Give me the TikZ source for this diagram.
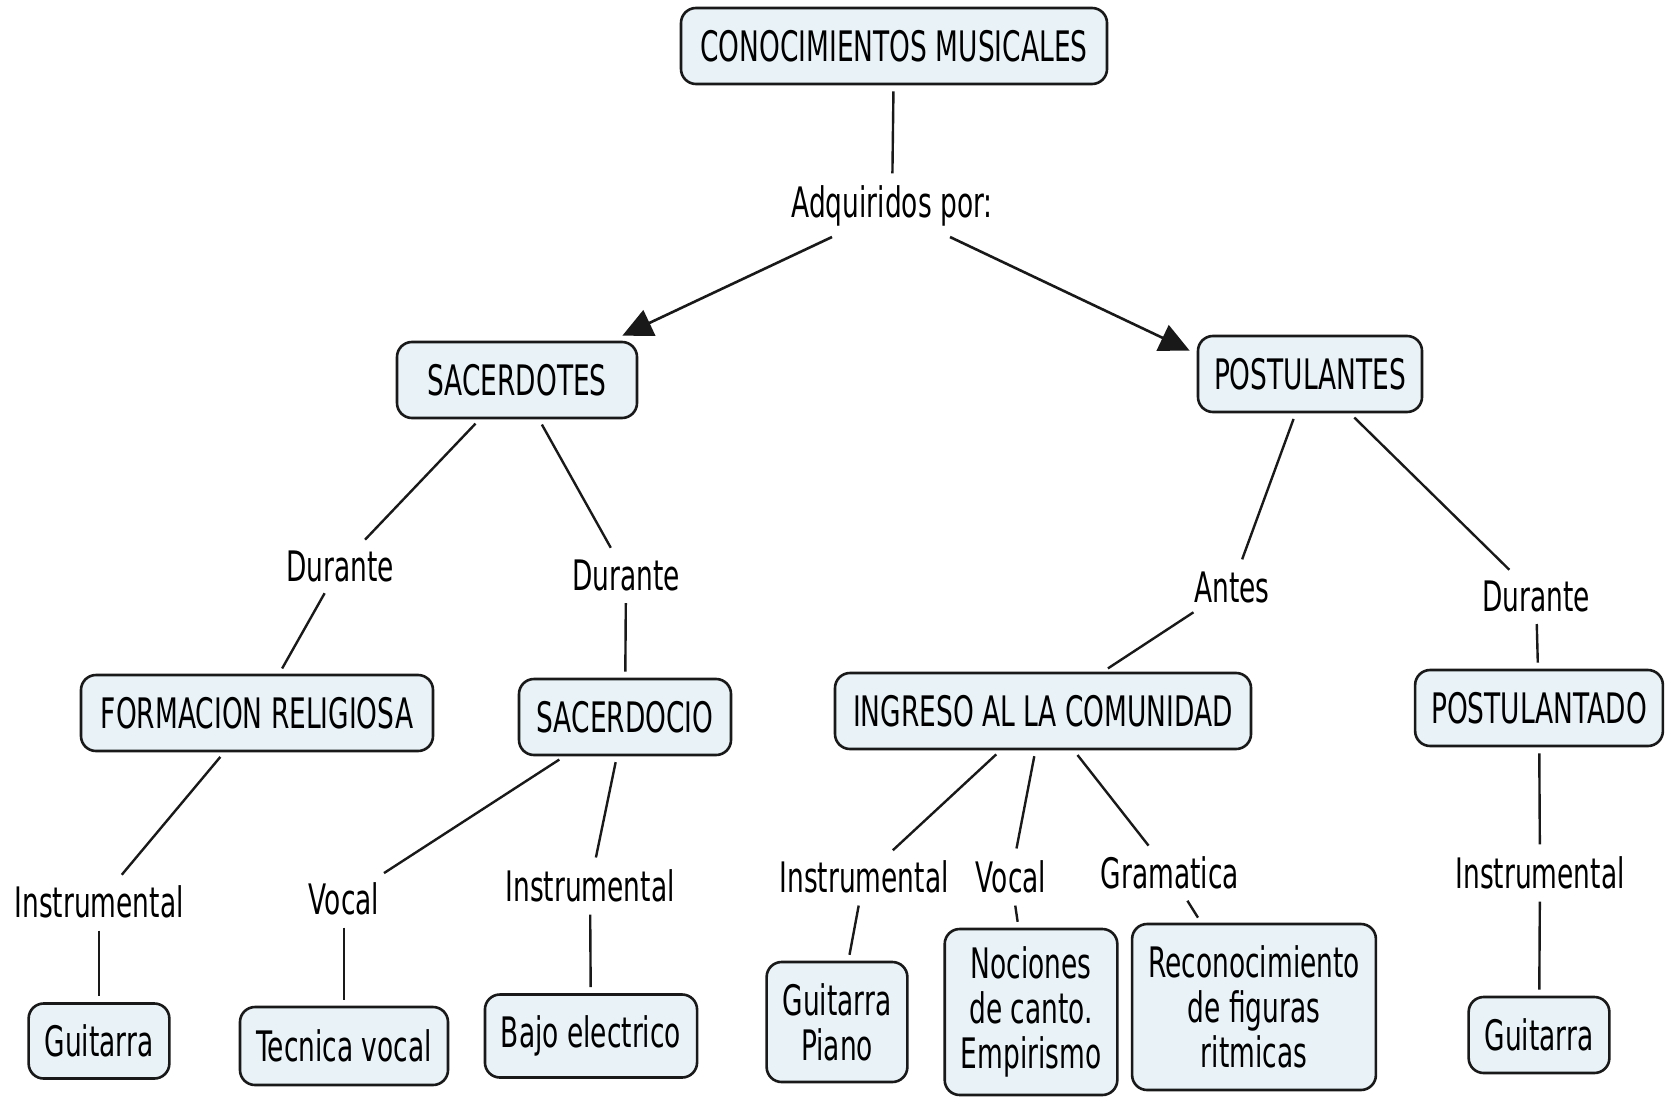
\documentclass[tikz,border=0pt]{standalone}
\usepackage{fontspec}
\setmainfont[FakeStretch=0.63]{DejaVu Sans}
\usetikzlibrary{arrows.meta,calc}
\definecolor{conceptfill}{HTML}{E8F2F7}
\colorlet{conceptline}{black!90}
\tikzstyle{concept} = [%
	rectangle,
	draw=conceptline,
	fill=conceptfill,
	line width=1.3pt,
	rounded corners=7.5pt,
	align=center,
	minimum height=38pt,
	inner xsep=8pt,
	font=\fontsize{21}{22.5}\selectfont
]
\tikzstyle{phrase} = [%
	rectangle,
	draw=none,
	inner sep=3pt,
	font=\fontsize{21}{22.5}\selectfont
]
\tikzset{every edge/.append style={
	line width=1.2pt,
	shorten <=3pt,
	shorten >=3pt,
	draw=conceptline
}}
\tikzstyle{link arrow} = [line width=1.3pt, draw=conceptline, -{Triangle[length=15pt,width=14pt]}]

\begin{document}
\begin{tikzpicture}[x=0.5pt, y=-0.5pt]

\useasboundingbox (0,0) rectangle (1673,1096);

% root and first split
\node[concept, minimum width=213pt] (cm) at (894,46) {CONOCIMIENTOS MUSICALES};
\node[phrase] (adq) at (892,206) {Adquiridos por:};
\node[concept, minimum width=120pt] (sac) at (517,380) {SACERDOTES};
\node[concept, minimum width=112pt] (post) at (1310,374) {POSTULANTES};
\path (cm) edge (adq);
\draw[link arrow] ($(adq)+(-60,31)$) -- ([shift={(-8pt,2.5pt)}] sac.north east);
\draw[link arrow] ($(adq)+(58,31)$) -- ([shift={(-3.5pt,-8pt)}] post.north west);

% sacerdotes branch
\node[phrase] (dur1) at (340,566) {Durante};
\node[phrase] (dur2) at (626,575) {Durante};
\node[concept, minimum width=176pt] (form) at (257,713) {FORMACION RELIGIOSA};
\node[concept, minimum width=106pt] (sacdo) at (625,717) {SACERDOCIO};
\path (sac) edge (dur1)
      (sac) edge (dur2)
      (dur1) edge (form)
      (dur2) edge (sacdo);

\node[phrase] (inst1) at (99,902) {Instrumental};
\node[phrase] (vocal1) at (344,899) {Vocal};
\node[phrase] (inst2) at (590,886) {Instrumental};
\node[concept, minimum width=70pt, minimum height=37.5pt] (guit1) at (99,1041) {Guitarra};
\node[concept, minimum width=104pt, minimum height=39pt] (tec) at (344,1046) {Tecnica vocal};
\node[concept, minimum width=104pt, minimum height=41.5pt] (bajo) at (591,1036) {Bajo electrico};
\path (form) edge (inst1)
      (inst1) edge (guit1)
      (sacdo) edge (vocal1)
      (vocal1) edge (tec)
      (sacdo) edge (inst2)
      (inst2) edge (bajo);

% postulantes branch
\node[phrase] (antes) at (1232,587) {Antes};
\node[phrase] (dur3) at (1536,596) {Durante};
\node[concept, minimum width=208pt] (ingr) at (1043,711) {INGRESO AL LA COMUNIDAD};
\node[concept, minimum width=123pt] (postdo) at (1539,708) {POSTULANTADO};
\path (post) edge (antes)
      (post) edge (dur3)
      (antes) edge (ingr)
      (dur3) edge (postdo);

\node[phrase] (inst3) at (864,877) {Instrumental};
\node[phrase] (vocal2) at (1011,877) {Vocal};
\node[phrase] (gram) at (1170,873) {Gramatica};
\node[phrase] (inst4) at (1540,873) {Instrumental};
\node[concept, minimum width=70pt, minimum height=60pt] (gp) at (837,1022) {Guitarra\\Piano};
\node[concept, minimum width=86pt, minimum height=83pt] (noc) at (1031,1012) {Nociones\\de canto.\\Empirismo};
\node[concept, minimum width=120pt, minimum height=83pt] (rec) at (1254,1007) {Reconocimiento\\de figuras\\ritmicas};
\node[concept, minimum width=70pt, minimum height=38pt] (guit2) at (1539,1035) {Guitarra};
\path (ingr) edge (inst3)
      (inst3) edge (gp)
      (ingr) edge (vocal2)
      (vocal2) edge (noc)
      (ingr) edge (gram)
      (gram) edge (rec)
      (postdo) edge (inst4)
      (inst4) edge (guit2);

\end{tikzpicture}
\end{document}
